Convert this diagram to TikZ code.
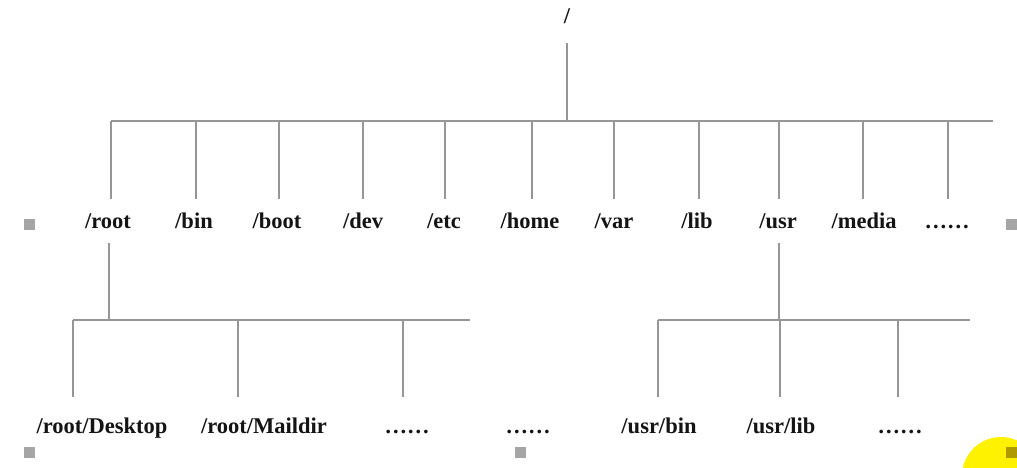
\documentclass[tikz,border=0pt]{standalone}
\usepackage{fontspec}
\setmainfont{Liberation Serif}
\begin{document}
\begin{tikzpicture}[x=1pt,y=-1pt,
  lbl/.style={font=\fontsize{22.5}{27}\selectfont\bfseries, text=black!92, anchor=base,
    inner sep=0pt, text height=16pt, text depth=5pt},
  treeline/.style={draw={rgb,255:red,150;green,150;blue,150}, line width=1.4pt},
  handle/.style={fill={rgb,255:red,165;green,165;blue,165}, draw=none, minimum size=11pt, inner sep=0pt},
  dropA/.style={treeline, shorten >=13pt},
  dropB/.style={treeline, shorten >=20pt}]
\useasboundingbox (0,0) rectangle (1017,468);
\fill[white] (0,0) rectangle (1017,468);

% level 0
\node[lbl] (slash) at (567,24) {/};
% level 1 labels
\node[lbl] (root)  at (108,228) {/root};
\node[lbl] (bin)   at (194,228) {/bin};
\node[lbl] (boot)  at (277,228) {/boot};
\node[lbl] (dev)   at (363,228) {/dev};
\node[lbl] (etc)   at (444,228) {/etc};
\node[lbl] (home)  at (530,228) {/home};
\node[lbl] (var)   at (614,228) {/var};
\node[lbl] (lib)   at (697,228) {/lib};
\node[lbl] (usr)   at (778,228) {/usr};
\node[lbl] (media) at (864,228) {/media};
\node[lbl] (more1) at (947,228) {……};
% level 2 labels
\node[lbl] (desk)  at (102,433) {/root/Desktop};
\node[lbl] (mail)  at (264,433) {/root/Maildir};
\node[lbl] (more2) at (407,433) {……};
\node[lbl] (more3) at (528,433) {……};
\node[lbl] (ubin)  at (659,433) {/usr/bin};
\node[lbl] (ulib)  at (781,433) {/usr/lib};
\node[lbl] (more4) at (900,433) {……};

% top bus
\coordinate (busL) at (111,121);
\coordinate (busR) at (993,121);
\coordinate (busM) at (567,121);
\draw[treeline] (busL) -- (busR);
\draw[treeline, shorten <=14pt] (busM |- slash.south) -- (busM);
\foreach \n/\x in {root/111,bin/196,boot/279,dev/363,etc/445,home/532,var/614,lib/699,usr/779,media/863,more1/948}{
  \coordinate (t\n) at (\x,121);
  \draw[dropA] (t\n) -- (t\n |- \n.north);
}

% /root subtree
\coordinate (rL) at (73,320);
\coordinate (rR) at (470,320);
\coordinate (rM) at (109,320);
\draw[treeline] (rL) -- (rR);
\draw[treeline, shorten <=10pt] (rM |- root.south) -- (rM);
\foreach \n/\x in {desk/73,mail/238,more2/403}{
  \coordinate (r\n) at (\x,320);
  \draw[dropB] (r\n) -- (r\n |- \n.north);
}

% /usr subtree
\coordinate (uL) at (658,320);
\coordinate (uR) at (970,320);
\coordinate (uM) at (779,320);
\draw[treeline] (uL) -- (uR);
\draw[treeline, shorten <=10pt] (uM |- usr.south) -- (uM);
\foreach \n/\x in {ubin/658,ulib/780,more4/898}{
  \coordinate (u\n) at (\x,320);
  \draw[dropB] (u\n) -- (u\n |- \n.north);
}

% cursor highlight
\fill[yellow] (1001,476) circle[radius=39];

% selection handles
\node[handle] (h1) at (29,224) {};
\node[handle] (h2) at (1011,224) {};
\node[handle] (h3) at (29,452) {};
\node[handle] (h4) at (520,452) {};
\node[handle, fill={rgb,255:red,175;green,155;blue,0}] (h5) at (1011,452) {};
\end{tikzpicture}
\end{document}
